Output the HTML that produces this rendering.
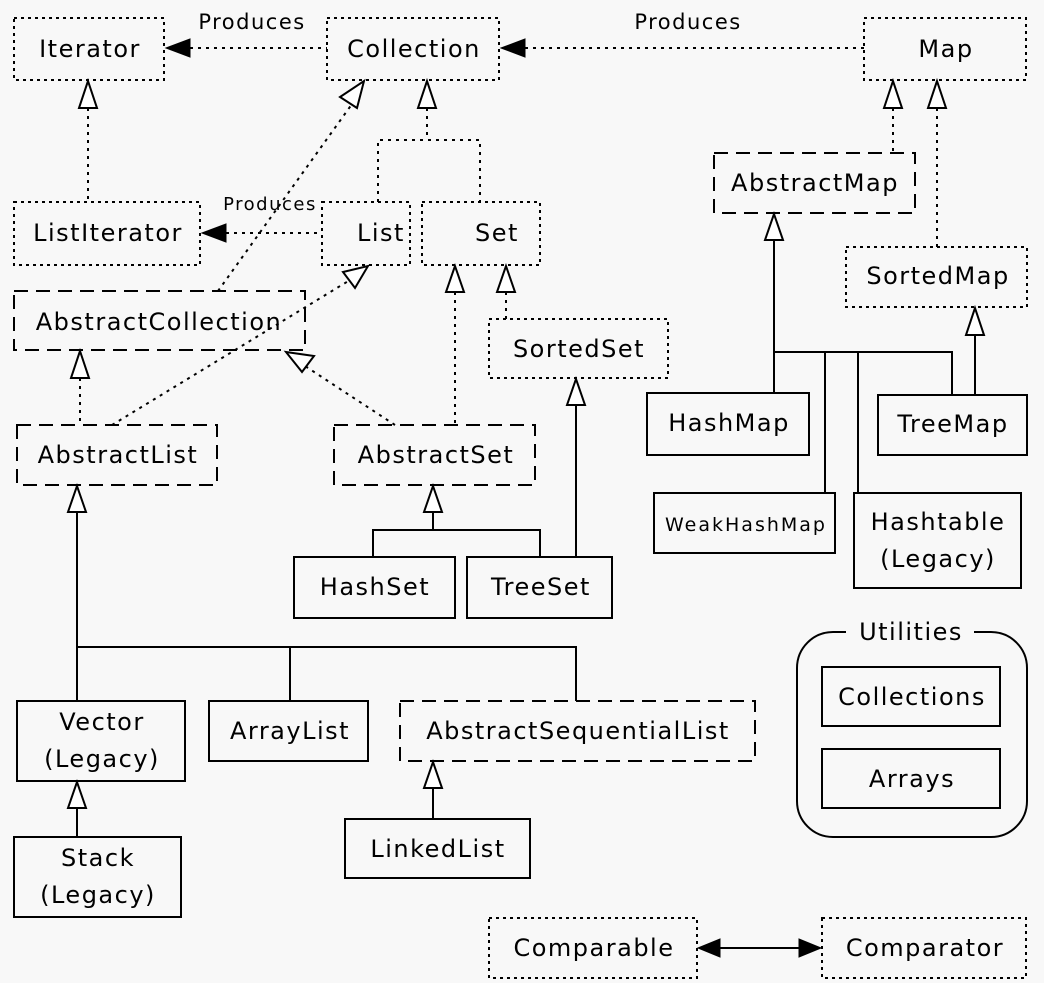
<!DOCTYPE html>
<html><head><meta charset="utf-8"><style>
html,body{margin:0;padding:0;background:#fff}
svg{display:block}
text{font-family:"DejaVu Sans","Liberation Sans",sans-serif;font-size:24px;letter-spacing:1.5px;fill:#000;text-anchor:middle}
.dot{fill:none;stroke:#000;stroke-width:2;stroke-dasharray:3 4}
.dash{fill:none;stroke:#000;stroke-width:2;stroke-dasharray:14 8}
.sol{fill:none;stroke:#000;stroke-width:2}
.tri{fill:#fff;stroke:#000;stroke-width:2}
.ftri{fill:#000;stroke:#000;stroke-width:1}
.dl{stroke:#000;stroke-width:2;stroke-dasharray:3 5;fill:none}
.sl{stroke:#000;stroke-width:2;fill:none}
</style></head><body>
<svg width="1044" height="1004" viewBox="0 0 1044 1004">
<rect x="0" y="0" width="1044" height="983" fill="#f8f8f8"/>

<rect class="dot" x="14" y="18" width="150" height="62"/><text x="90" y="57">Iterator</text>
<rect class="dot" x="327" y="18" width="172" height="62"/><text x="414" y="57">Collection</text>
<rect class="dot" x="864" y="18" width="162" height="62"/><text x="946" y="57">Map</text>
<rect class="dot" x="14" y="202" width="186" height="63"/><text x="108" y="241">ListIterator</text>
<rect class="dot" x="322" y="202" width="88" height="63"/><text x="381" y="241">List</text>
<rect class="dot" x="422" y="202" width="118" height="63"/><text x="497" y="241">Set</text>
<rect class="dot" x="489" y="319" width="179" height="59"/><text x="579" y="357">SortedSet</text>
<rect class="dot" x="846" y="247" width="181" height="60"/><text x="938" y="284">SortedMap</text>
<rect class="dot" x="489" y="918" width="208" height="60"/><text x="594" y="956">Comparable</text>
<rect class="dot" x="822" y="918" width="204" height="60"/><text x="925" y="956">Comparator</text>

<rect class="dash" x="14" y="291" width="291" height="59"/><text x="159" y="330">AbstractCollection</text>
<rect class="dash" x="17" y="425" width="200" height="60"/><text x="118" y="463">AbstractList</text>
<rect class="dash" x="334" y="425" width="201" height="60"/><text x="436" y="463">AbstractSet</text>
<rect class="dash" x="714" y="153" width="201" height="60"/><text x="815" y="191">AbstractMap</text>
<rect class="dash" x="400" y="701" width="355" height="60"/><text x="578" y="739">AbstractSequentialList</text>

<rect class="sol" x="17" y="701" width="168" height="80"/><text x="102" y="730">Vector</text><text x="102" y="767">(Legacy)</text>
<rect class="sol" x="209" y="701" width="159" height="60"/><text x="290" y="739">ArrayList</text>
<rect class="sol" x="14" y="837" width="167" height="80"/><text x="98" y="866">Stack</text><text x="98" y="903">(Legacy)</text>
<rect class="sol" x="345" y="819" width="185" height="59"/><text x="438" y="857">LinkedList</text>
<rect class="sol" x="294" y="557" width="161" height="61"/><text x="375" y="595">HashSet</text>
<rect class="sol" x="467" y="557" width="145" height="61"/><text x="541" y="595">TreeSet</text>
<rect class="sol" x="647" y="393" width="162" height="62"/><text x="729" y="431">HashMap</text>
<rect class="sol" x="878" y="395" width="149" height="60"/><text x="953" y="432">TreeMap</text>
<rect class="sol" x="654" y="493" width="181" height="60"/><text x="746" y="531" style="font-size:19px;letter-spacing:2px">WeakHashMap</text>
<rect class="sol" x="854" y="493" width="167" height="95"/><text x="938" y="530">Hashtable</text><text x="938" y="567">(Legacy)</text>

<rect class="sol" x="797" y="632" width="230" height="205" rx="36"/>
<rect x="846" y="618" width="128" height="28" fill="#f8f8f8"/>
<text x="911" y="640">Utilities</text>
<rect class="sol" x="822" y="667" width="178" height="59"/><text x="912" y="705">Collections</text>
<rect class="sol" x="822" y="749" width="178" height="59"/><text x="912" y="787">Arrays</text>

<line class="dl" x1="190" y1="48" x2="327" y2="48"/><polygon class="ftri" points="166,48 190,39 190,57"/>
<text x="252" y="29" style="font-size:21px">Produces</text>
<line class="dl" x1="525" y1="48" x2="864" y2="48"/><polygon class="ftri" points="501,48 525,39 525,57"/>
<text x="688" y="29" style="font-size:21px">Produces</text>
<line class="dl" x1="226" y1="233" x2="322" y2="233"/><polygon class="ftri" points="202,233 226,224 226,242"/>
<text x="270" y="210" style="font-size:18px">Produces</text>

<line class="dl" x1="88" y1="108" x2="88" y2="202"/><polygon class="tri" points="88,81 79,108 97,108"/>
<line class="dl" x1="427" y1="108" x2="427" y2="140"/><polygon class="tri" points="427,81 418,108 436,108"/>
<polyline class="dl" points="378,202 378,140 480,140 480,202"/>
<line class="dl" x1="893" y1="108" x2="893" y2="153"/><polygon class="tri" points="893,81 884,108 902,108"/>
<line class="dl" x1="937" y1="108" x2="937" y2="247"/><polygon class="tri" points="937,81 928,108 946,108"/>
<line class="dl" x1="506" y1="292" x2="506" y2="319"/><polygon class="tri" points="506,266 497,292 515,292"/>
<line class="dl" x1="455" y1="292" x2="455" y2="425"/><polygon class="tri" points="455,266 446,292 464,292"/>
<line class="dl" x1="80" y1="378" x2="80" y2="425"/><polygon class="tri" points="80,351 71,378 89,378"/>
<line class="dl" x1="218" y1="291" x2="352" y2="104"/><polygon class="tri" points="364,81 357,108 340,97"/>
<line class="dl" x1="112" y1="425" x2="350" y2="280"/><polygon class="tri" points="368,266 355,288 343,272"/>
<line class="dl" x1="395" y1="425" x2="305" y2="366"/><polygon class="tri" points="286,352 314,356 302,372"/>

<line class="sl" x1="77" y1="512" x2="77" y2="701"/><polygon class="tri" points="77,486 68,512 86,512"/>
<polyline class="sl" points="77,647 576,647 576,701"/>
<line class="sl" x1="290" y1="647" x2="290" y2="701"/>
<line class="sl" x1="77" y1="808" x2="77" y2="837"/><polygon class="tri" points="77,782 68,808 86,808"/>
<line class="sl" x1="433" y1="788" x2="433" y2="819"/><polygon class="tri" points="433,762 424,788 442,788"/>
<line class="sl" x1="433" y1="512" x2="433" y2="530"/><polygon class="tri" points="433,486 424,512 442,512"/>
<polyline class="sl" points="373,557 373,530 540,530 540,557"/>
<line class="sl" x1="576" y1="405" x2="576" y2="557"/><polygon class="tri" points="576,379 567,405 585,405"/>
<line class="sl" x1="774" y1="240" x2="774" y2="393"/><polygon class="tri" points="774,214 765,240 783,240"/>
<polyline class="sl" points="774,352 952,352 952,395"/>
<line class="sl" x1="825" y1="352" x2="825" y2="493"/>
<line class="sl" x1="858" y1="352" x2="858" y2="493"/>
<line class="sl" x1="975" y1="335" x2="975" y2="395"/><polygon class="tri" points="975,308 966,335 984,335"/>

<line class="sl" x1="718" y1="948" x2="800" y2="948"/>
<polygon class="ftri" points="698,948 720,939 720,957"/>
<polygon class="ftri" points="821,948 799,939 799,957"/>
</svg>
</body></html>
